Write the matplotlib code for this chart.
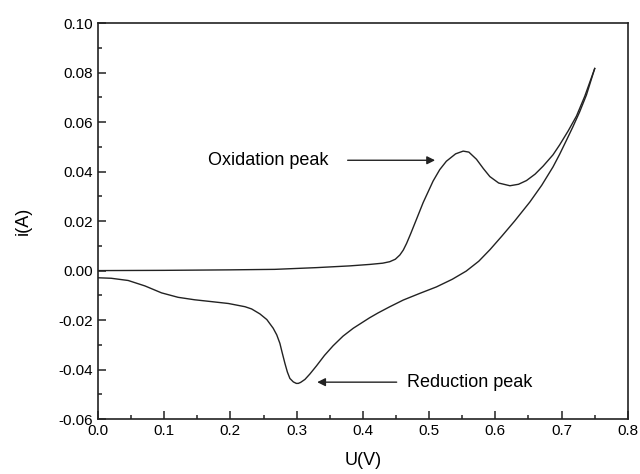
#!/usr/bin/env python3
# -*- coding: utf-8 -*-
import matplotlib
matplotlib.use("Agg")
import matplotlib.pyplot as plt
from matplotlib.ticker import MultipleLocator

plt.rcParams['font.family'] = ['Liberation Sans', 'DejaVu Sans']

# forward scan (potential increasing)
fwd_u = [0.0, 0.1, 0.2, 0.267, 0.33, 0.38, 0.4106, 0.43, 0.4406, 0.449,
         0.4558, 0.461, 0.466, 0.472, 0.481, 0.491, 0.506, 0.516, 0.526, 0.54,
         0.5514, 0.56, 0.5715, 0.582, 0.5917, 0.605, 0.622, 0.635, 0.647, 0.66,
         0.672, 0.687, 0.697, 0.71, 0.7225, 0.735, 0.750]
fwd_i = [0.0, 0.0001, 0.0003, 0.0005, 0.0012, 0.0019, 0.0025, 0.0030, 0.0036, 0.0046,
         0.0063, 0.0083, 0.0110, 0.0148, 0.0208, 0.0275, 0.0362, 0.0408, 0.0442, 0.0472,
         0.0483, 0.0479, 0.0450, 0.0412, 0.0380, 0.0354, 0.0343, 0.0349, 0.0364, 0.0390,
         0.0422, 0.0468, 0.0508, 0.0565, 0.0625, 0.0705, 0.0817]

# reverse scan (potential decreasing)
rev_u = [0.750, 0.7375, 0.727, 0.717, 0.707, 0.697, 0.687, 0.67, 0.652, 0.629,
         0.61, 0.592, 0.575, 0.556, 0.535, 0.511, 0.486, 0.461, 0.44, 0.423,
         0.41, 0.3855, 0.37, 0.355, 0.342, 0.33, 0.32, 0.3125, 0.306, 0.3025,
         0.2995, 0.295, 0.2898, 0.286, 0.2823, 0.278, 0.2747, 0.27, 0.2646, 0.255,
         0.2445, 0.232, 0.222, 0.197, 0.17, 0.146, 0.121, 0.096, 0.071, 0.0457,
         0.02, 0.0]
rev_i = [0.0817, 0.0710, 0.0640, 0.0581, 0.0525, 0.0470, 0.0419, 0.0345, 0.0277, 0.0200,
         0.0140, 0.0085, 0.0038, -0.0002, -0.0035, -0.0066, -0.0092, -0.0119, -0.0147, -0.0171,
         -0.0191, -0.0233, -0.0265, -0.0304, -0.0343, -0.0385, -0.0418, -0.0440, -0.0452, -0.0456,
         -0.0456, -0.0450, -0.0436, -0.0410, -0.0375, -0.0330, -0.0294, -0.0260, -0.0233, -0.0198,
         -0.0175, -0.0155, -0.0146, -0.0133, -0.0125, -0.0118, -0.0108, -0.0090, -0.0062, -0.0040,
         -0.0031, -0.0029]


def plot_data():
    fig = plt.figure(figsize=(6.4, 4.74), dpi=100)
    ax = fig.add_axes([0.153, 0.116, 0.828, 0.835])

    # the voltammogram itself, one loop
    ax.plot(fwd_u, fwd_i, color='#222222', lw=1.0)
    ax.plot(rev_u, rev_i, color='#222222', lw=1.0)

    ax.set_xlim(0.0, 0.8)
    ax.set_ylim(-0.06, 0.10)
    ax.xaxis.set_major_locator(MultipleLocator(0.1))
    ax.xaxis.set_minor_locator(MultipleLocator(0.05))
    ax.yaxis.set_major_locator(MultipleLocator(0.02))
    ax.yaxis.set_minor_locator(MultipleLocator(0.01))
    ax.xaxis.set_major_formatter(plt.FormatStrFormatter('%.1f'))
    ax.yaxis.set_major_formatter(plt.FormatStrFormatter('%.2f'))
    ax.tick_params(which='both', direction='in', top=False, right=False,
                   labelsize=11, width=1.1, color='#222222')
    ax.tick_params(which='major', length=6)
    ax.tick_params(which='minor', length=3)
    for s in ax.spines.values():
        s.set_linewidth(1.2)
        s.set_color('#222222')

    ax.set_xlabel("U(V)", fontsize=13, labelpad=10)
    ax.set_ylabel("i(A)", fontsize=13, labelpad=19)

    # peak labels with arrows
    arrow = dict(arrowstyle='-|>', color='#222222', lw=1.0,
                 mutation_scale=12, shrinkA=0, shrinkB=0)
    ax.annotate("", xy=(0.509, 0.0446), xytext=(0.377, 0.0446), arrowprops=arrow)
    ax.text(0.166, 0.0446, "Oxidation peak", fontsize=13, va='center', ha='left')
    ax.annotate("", xy=(0.331, -0.0451), xytext=(0.451, -0.0451), arrowprops=arrow)
    ax.text(0.466, -0.0451, "Reduction peak", fontsize=13, va='center', ha='left')

    fig.savefig("out.png", dpi=100)


def main():
    plot_data()


if __name__ == "__main__":
    main()
